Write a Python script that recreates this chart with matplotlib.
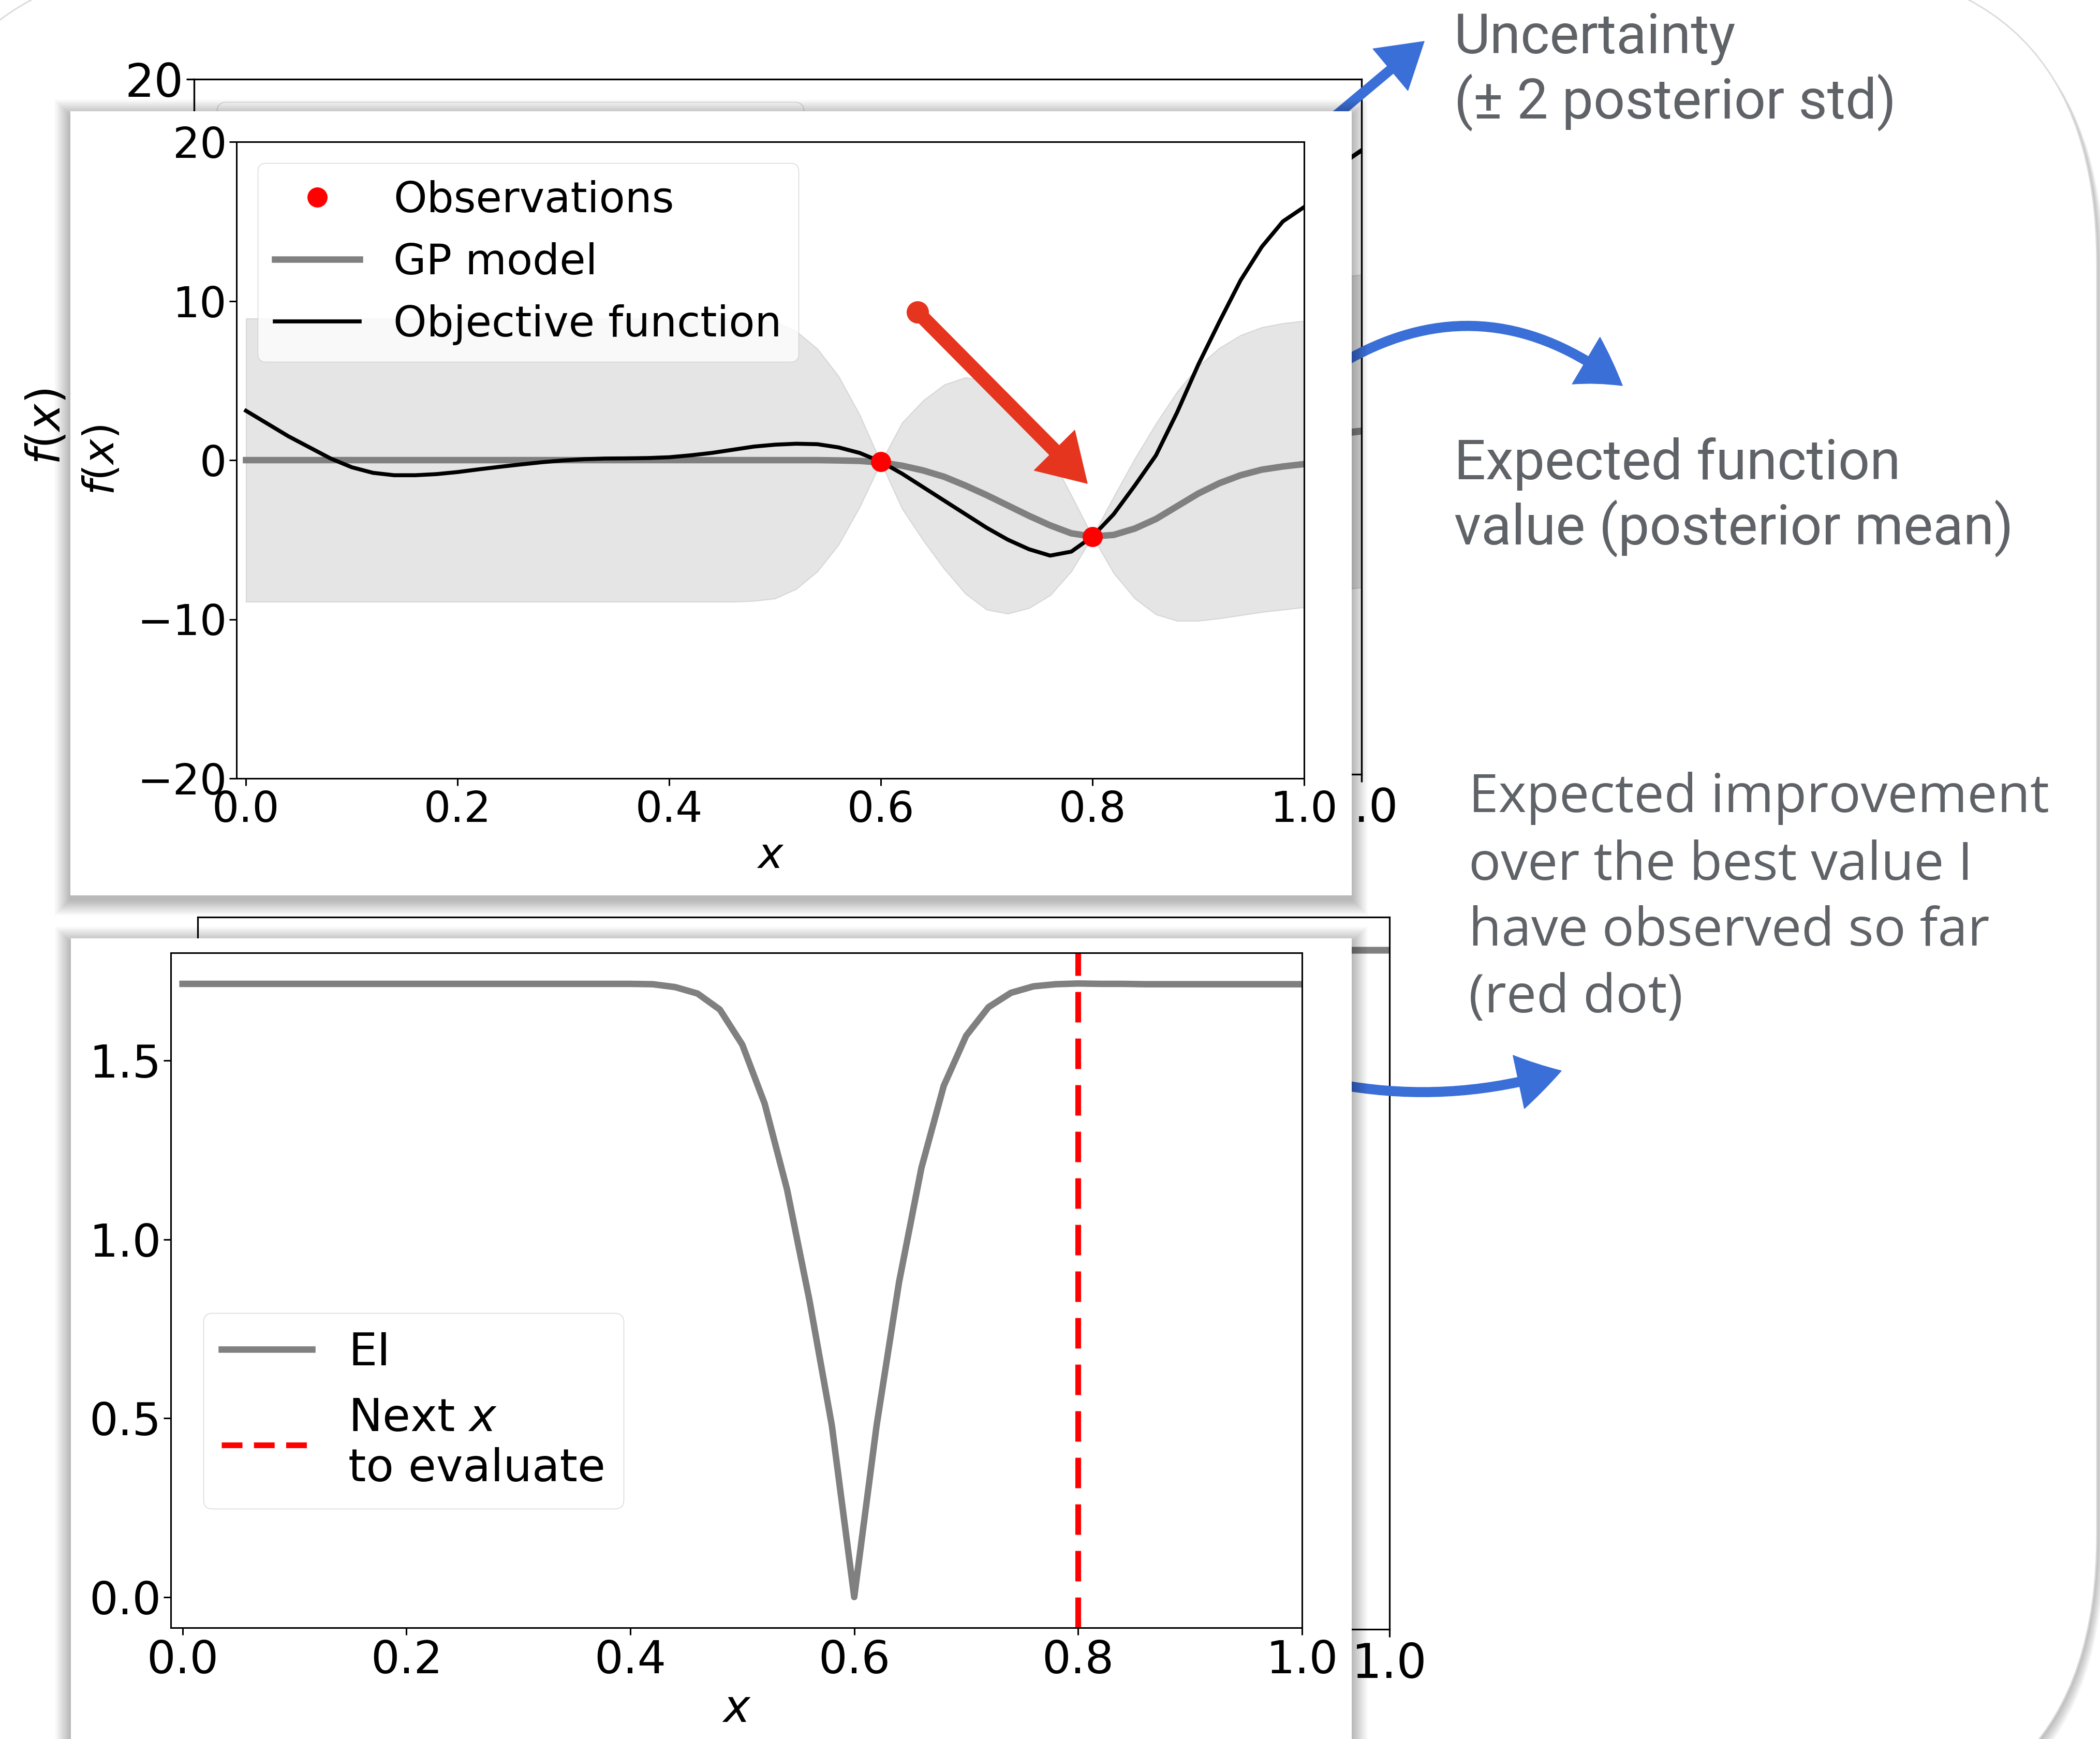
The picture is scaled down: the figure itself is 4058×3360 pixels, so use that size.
import matplotlib
matplotlib.use("Agg")
import matplotlib.pyplot as plt
from matplotlib.patches import Rectangle, FancyBboxPatch, FancyArrowPatch, ArrowStyle
from matplotlib.lines import Line2D
from matplotlib.transforms import Affine2D

W, H = 4058, 3360

# ---- data ----
x_grid = [0.00, 0.02, 0.04, 0.06, 0.08, 0.10, 0.12, 0.14, 0.16, 0.18,
          0.20, 0.22, 0.24, 0.26, 0.28, 0.30, 0.32, 0.34, 0.36, 0.38,
          0.40, 0.42, 0.44, 0.46, 0.48, 0.50, 0.52, 0.54, 0.56, 0.58,
          0.60, 0.62, 0.64, 0.66, 0.68, 0.70, 0.72, 0.74, 0.76, 0.78,
          0.80, 0.82, 0.84, 0.86, 0.88, 0.90, 0.92, 0.94, 0.96, 0.98, 1.00]

objective = [3.1, 2.3, 1.5, 0.8, 0.1, -0.45, -0.8, -0.95, -0.95, -0.88,
             -0.75, -0.58, -0.42, -0.27, -0.13, -0.02, 0.06, 0.10, 0.11, 0.13,
             0.18, 0.30, 0.45, 0.65, 0.85, 0.97, 1.03, 1.00, 0.80, 0.45,
             -0.10, -0.85, -1.70, -2.55, -3.40, -4.25, -5.00, -5.60, -6.00, -5.75,
             -4.80, -3.40, -1.60, 0.30, 3.00, 6.00, 8.70, 11.30, 13.40, 15.00, 15.90]

gp_mean = [0.0, 0.0, 0.0, 0.0, 0.0, 0.0, 0.0, 0.0, 0.0, 0.0,
           0.0, 0.0, 0.0, 0.0, 0.0, 0.0, 0.0, 0.0, 0.0, 0.0,
           0.0, 0.0, 0.0, 0.0, 0.0, 0.0, 0.0, 0.0, -0.02, -0.05,
           -0.15, -0.35, -0.65, -1.05, -1.6, -2.2, -2.85, -3.5, -4.1, -4.6,
           -4.8, -4.7, -4.3, -3.7, -2.9, -2.1, -1.45, -0.95, -0.6, -0.4, -0.25]

band_upper = [8.9, 8.9, 8.9, 8.9, 8.9, 8.9, 8.9, 8.9, 8.9, 8.9,
              8.9, 8.9, 8.9, 8.9, 8.9, 8.9, 8.9, 8.9, 8.9, 8.9,
              8.9, 8.9, 8.9, 8.9, 8.85, 8.7, 8.1, 7.0, 5.28, 2.85,
              -0.15, 2.35, 3.75, 4.75, 5.2, 5.0, 3.95, 2.3, 0.3, -2.2,
              -4.8, -2.3, 0.1, 2.3, 4.3, 5.9, 7.05, 7.85, 8.35, 8.6, 8.75]

band_lower = [-8.9, -8.9, -8.9, -8.9, -8.9, -8.9, -8.9, -8.9, -8.9, -8.9,
              -8.9, -8.9, -8.9, -8.9, -8.9, -8.9, -8.9, -8.9, -8.9, -8.9,
              -8.9, -8.9, -8.9, -8.9, -8.85, -8.7, -8.1, -7.0, -5.32, -2.95,
              -0.15, -3.05, -5.05, -6.85, -8.4, -9.4, -9.65, -9.3, -8.5, -7.0,
              -4.8, -7.1, -8.7, -9.7, -10.1, -10.1, -9.95, -9.75, -9.55, -9.4, -9.25]

ei = [1.715, 1.715, 1.715, 1.715, 1.715, 1.715, 1.715, 1.715, 1.715, 1.715,
      1.715, 1.715, 1.715, 1.715, 1.715, 1.715, 1.715, 1.715, 1.715, 1.715,
      1.715, 1.714, 1.706, 1.688, 1.643, 1.545, 1.38, 1.14, 0.83, 0.48,
      0.0, 0.48, 0.88, 1.20, 1.43, 1.57, 1.65, 1.69, 1.708, 1.714,
      1.716, 1.715, 1.715, 1.714, 1.714, 1.714, 1.714, 1.714, 1.714, 1.714, 1.714]

obs_x = [0.6, 0.8]
obs_y = [-0.1, -4.8]
next_x = 0.8

TEXT_GREY = "#5f6368"
BLUE = "#3a6fd8"
RED_PEN = "#e6351f"

plt.rcParams["font.family"] = ["DejaVu Sans"]

fig = plt.figure(figsize=(W / 100, H / 100), dpi=100)
fig.patch.set_facecolor("white")

# image pixel coords (y down) -> display coords
PX = Affine2D().scale(1, -1).translate(0, H)


def axbox(l, t, r, b):
    return [l / W, 1 - b / H, (r - l) / W, (b - t) / H]


def style_axes(ax, fs, s):
    ax.tick_params(labelsize=fs, length=10 * s, width=2.2 * s)
    ax.tick_params(axis="x", pad=6 * s)
    for sp in ax.spines.values():
        sp.set_linewidth(2.2 * s)


def draw_top(ax, fs, s):
    ax.fill_between(x_grid, band_lower, band_upper, facecolor=(0.5, 0.5, 0.5, 0.2),
                    edgecolor=(0.5, 0.5, 0.5, 0.22), lw=1.5 * s)
    gp, = ax.plot(x_grid, gp_mean, color="gray", lw=9 * s)
    obj, = ax.plot(x_grid, objective, color="black", lw=5.5 * s)
    obs, = ax.plot(obs_x, obs_y, "o", color="red", ms=27 * s)
    ax.set_xlim(-0.009, 1.0)
    ax.set_ylim(-20, 20)
    ax.set_yticks([-20, -10, 0, 10, 20])
    ax.set_xticks([0.0, 0.2, 0.4, 0.6, 0.8, 1.0])
    ax.set_xlabel("$x$", fontsize=fs, labelpad=7 * s)
    ax.set_ylabel("$f(x)$", fontsize=fs)
    ax.yaxis.set_label_coords(-0.1066, 0.5)
    ax.legend([obs, gp, obj], ["Observations", "GP model", "Objective function"],
              loc="upper left", fontsize=fs)
    style_axes(ax, fs, s)


def draw_bottom(ax, fs, s, show_next=True):
    ax.plot(x_grid, ei, color="gray", lw=9 * s)
    if show_next:
        ax.axvline(next_x, color="red", lw=8 * s, ls=(0, (5.3, 2.8)))
    ax.set_xlim(-0.0105, 1.0)
    ax.set_xticks([0.0, 0.2, 0.4, 0.6, 0.8, 1.0])
    ax.set_yticks([0.0, 0.5, 1.0, 1.5])
    ax.set_xlabel("$x$", fontsize=fs, labelpad=7 * s)
    h_ei = Line2D([], [], color="gray", lw=9 * s)
    h_next = Line2D([], [], color="red", lw=8 * s, ls=(0, (3.6, 2.0)))
    ax.legend([h_ei, h_next], ["EI", "Next $x$\nto evaluate"], loc="lower left",
              bbox_to_anchor=(0.0288, 0.176), borderaxespad=0, fontsize=fs)
    style_axes(ax, fs, s)


# ---- slide background with rounded edge ----
slide_box = (-187, -70, 4052 + 187, 3543 + 70)
for i in range(1, 10):
    sh = FancyBboxPatch((slide_box[0] + i * 1.6, slide_box[1] + i * 2.2), slide_box[2], slide_box[3],
                        boxstyle="round,pad=0,rounding_size=580", facecolor="black",
                        edgecolor="none", alpha=0.03, transform=PX, zorder=-3)
    fig.add_artist(sh)
slide = FancyBboxPatch((slide_box[0], slide_box[1]), slide_box[2], slide_box[3],
                       boxstyle="round,pad=0,rounding_size=580", facecolor="white",
                       edgecolor="#dadada", lw=2, transform=PX, zorder=-2)
fig.add_artist(slide)

# ---- plots behind the cards ----
ax_b1 = fig.add_axes(axbox(375, 153, 2631, 1496))
draw_top(ax_b1, 64, 1.09)
ax_b1.yaxis.set_label_coords(-0.1064, 0.5)
ax_b1.set_zorder(0)

ax_b2 = fig.add_axes(axbox(382, 1772, 2685, 3148))
draw_bottom(ax_b2, 66, 1.05, show_next=False)
ax_b2.set_zorder(0)

# ---- blue pen arrows (start under the cards) ----
blue_style = ArrowStyle.Simple(head_length=0.85, head_width=1.05, tail_width=0.18)
for (p0, p1, rad) in [((2548, 251), (2752, 80), 0.0),
                      ((2560, 722), (3135, 745), -0.36),
                      ((2560, 2090), (3017, 2069), 0.13)]:
    arr = FancyArrowPatch(p0, p1, arrowstyle=blue_style, mutation_scale=72,
                          connectionstyle=f"arc3,rad={rad}", color=BLUE,
                          shrinkA=0, shrinkB=0, transform=PX, zorder=0.5)
    fig.add_artist(arr)

# ---- white cards with soft shadow ----
cards = [(136, 215, 2612, 1730), (137, 1813, 2612, 3420)]
for (l, t, r, b) in cards:
    for i in range(1, 19):
        e = i * 1.7
        fig.add_artist(Rectangle((l - e, t - e + 8), (r - l) + 2 * e, (b - t) + 2 * e,
                                 facecolor="black", edgecolor="none", alpha=0.016,
                                 transform=PX, zorder=0.8))
    fig.add_artist(Rectangle((l, t), r - l, b - t, facecolor="white", edgecolor="none",
                             transform=PX, zorder=1))

# ---- front plots ----
ax1 = fig.add_axes(axbox(457, 274, 2520, 1504))
draw_top(ax1, 59, 1.0)
ax1.set_zorder(2)

ax2 = fig.add_axes(axbox(330, 1841, 2516, 3145))
draw_bottom(ax2, 63, 1.0)
ax2.set_zorder(2)

# ---- red pen arrow on the top plot ----
red_style = ArrowStyle.Simple(head_length=0.9, head_width=1.1, tail_width=0.26)
fig.add_artist(FancyArrowPatch((1773, 603), (2101, 934), arrowstyle=red_style,
                               mutation_scale=72, color=RED_PEN, shrinkA=0, shrinkB=0,
                               transform=PX, zorder=3))
fig.add_artist(Line2D([1773], [603], marker="o", ms=30, color=RED_PEN, lw=0,
                      transform=PX, zorder=3))

# ---- slide annotations ----
notes = [
    (2810, 103, "Uncertainty", "Roboto", 77.5),
    (2810, 229.5, "(± 2 posterior std)", "Roboto", 77.5),
    (2810, 926, "Expected function", "Roboto", 77.5),
    (2810, 1052, "value (posterior mean)", "Roboto", 77.5),
    (2838, 1569, "Expected improvement", "Open Sans", 74.5),
    (2838, 1700, "over the best value I", "Open Sans", 74.5),
    (2838, 1827, "have observed so far", "Open Sans", 74.5),
    (2838, 1956, "(red dot)", "Open Sans", 74.5),
]
for (x, y, s, fam, size) in notes:
    fig.text(x, y, s, family=[fam, "DejaVu Sans"], fontsize=size, color=TEXT_GREY,
             ha="left", va="baseline", transform=PX, zorder=3)

fig.savefig("out.png", dpi=100)
